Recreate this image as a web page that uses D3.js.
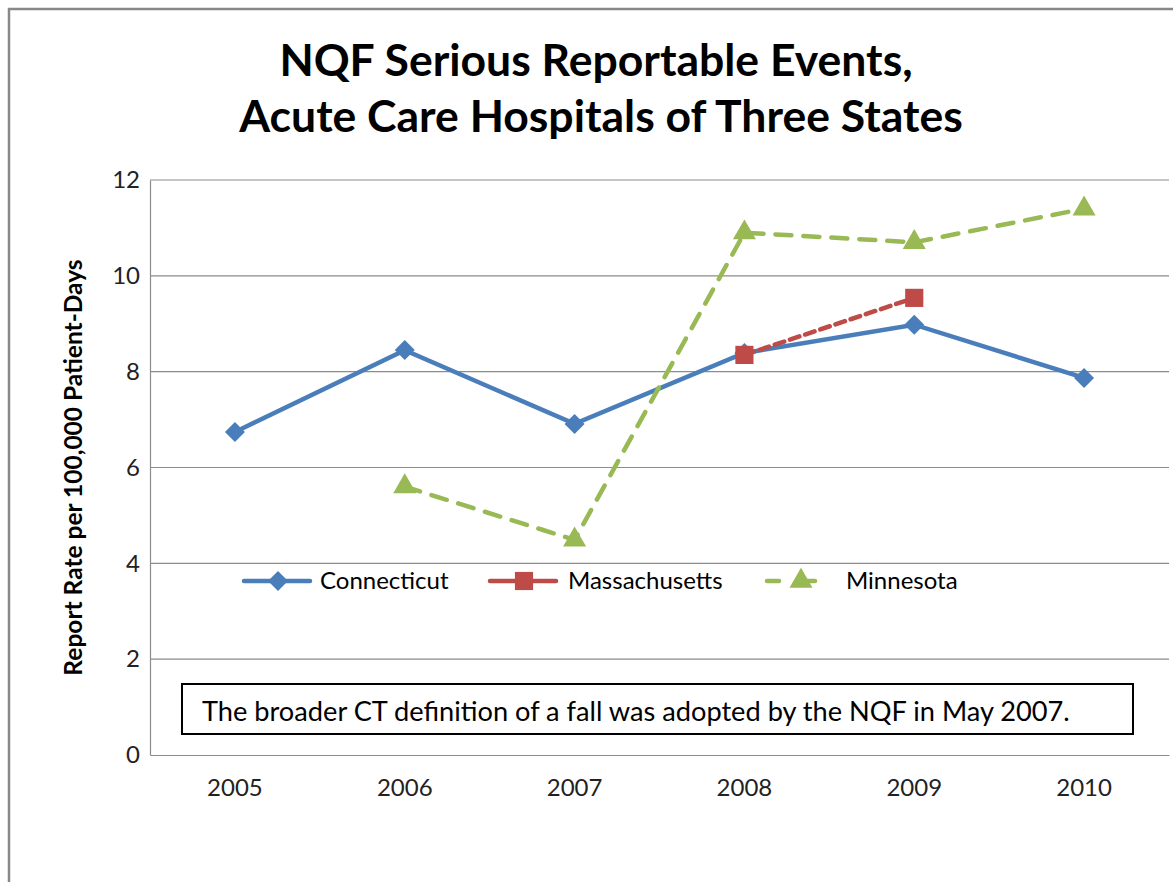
<!DOCTYPE html>
<html>
<head>
<meta charset="utf-8">
<script src="https://cdn.jsdelivr.net/npm/d3@7"></script>
<style>
  body { margin: 0; background: #fff; }
  svg { display: block; }
</style>
</head>
<body>
<div id="chart"></div>
<script>
const years = ["2005", "2006", "2007", "2008", "2009", "2010"];
const yTicks = [0, 2, 4, 6, 8, 10, 12];
const connecticut = [6.74, 8.45, 6.91, 8.39, 8.98, 7.87];
const massachusetts = [null, null, null, 8.35, 9.54, null];
const minnesota = [null, 5.6, 4.49, 10.9, 10.7, 11.4];

const W = 1173, H = 882;
const FONT = "Lato, 'Open Sans', Arial, sans-serif";

const svg = d3.select("#chart").append("svg")
    .attr("width", W)
    .attr("height", H);

// outer chart frame (continues past the right and bottom edges)
svg.append("rect")
    .attr("x", 9).attr("y", 9)
    .attr("width", W + 20).attr("height", H + 20)
    .attr("fill", "#fff")
    .attr("stroke", "#888").attr("stroke-width", 2.5);

// title
const title = svg.append("text")
    .attr("text-anchor", "middle")
    .attr("font-family", FONT)
    .attr("font-weight", "bold")
    .attr("font-size", "44.5px")
    .attr("fill", "#000");
title.append("tspan").attr("x", 596).attr("y", 76).text("NQF Serious Reportable Events,");
title.append("tspan").attr("x", 601).attr("y", 132).text("Acute Care Hospitals of Three States");

const plot = { left: 150, right: 1169, top: 180, bottom: 755 };

const x = d3.scaleBand().domain(years).range([plot.left, plot.right]);
const y = d3.scaleLinear().domain([0, 12]).range([plot.bottom, plot.top]);

// gridlines
svg.append("g")
    .selectAll("line")
    .data(yTicks.filter(d => d > 0))
    .join("line")
    .attr("x1", plot.left).attr("x2", plot.right)
    .attr("y1", d => y(d)).attr("y2", d => y(d))
    .attr("stroke", "#8c8c8c").attr("stroke-width", 1.2);

// y axis
const yAxis = svg.append("g")
    .attr("transform", `translate(${plot.left},0)`)
    .call(d3.axisLeft(y).tickValues(yTicks).tickSize(0).tickPadding(10));
yAxis.select(".domain").attr("stroke", "#8c8c8c").attr("stroke-width", 1.2);
yAxis.selectAll("text")
    .attr("font-family", FONT)
    .attr("font-size", "24px")
    .attr("fill", "#222");

// x axis
const xAxis = svg.append("g")
    .attr("transform", `translate(0,${plot.bottom})`)
    .call(d3.axisBottom(x).tickSize(0).tickPadding(24));
xAxis.select(".domain").attr("stroke", "#8c8c8c").attr("stroke-width", 1.2);
xAxis.selectAll("text")
    .attr("font-family", FONT)
    .attr("font-size", "24px")
    .attr("fill", "#222");

// y axis title
svg.append("text")
    .attr("transform", `translate(82,${(plot.top + plot.bottom) / 2}) rotate(-90)`)
    .attr("text-anchor", "middle")
    .attr("font-family", FONT)
    .attr("font-weight", "bold")
    .attr("font-size", "24.5px")
    .text("Report Rate per 100,000 Patient-Days");

// annotation box
svg.append("rect")
    .attr("x", 182).attr("y", 684)
    .attr("width", 951).attr("height", 50)
    .attr("fill", "#fff")
    .attr("stroke", "#000").attr("stroke-width", 2);
svg.append("text")
    .attr("x", 202).attr("y", 721)
    .attr("font-family", FONT)
    .attr("font-size", "27.2px")
    .attr("fill", "#000")
    .text("The broader CT definition of a fall was adopted by the NQF in May 2007.");

// diamond = square turned 45 degrees, like the Excel marker
const series = [
    { name: "Connecticut", values: connecticut, color: "#4A7EBB", dash: null, marker: d3.symbolSquare, size: 200, rot: 45 },
    { name: "Massachusetts", values: massachusetts, color: "#BE4B48", dash: "10,6", marker: d3.symbolSquare, size: 330, rot: 0 },
    { name: "Minnesota", values: minnesota, color: "#98B954", dash: "16,12", marker: d3.symbolTriangle, size: 230, rot: 0 }
];

const line = d3.line()
    .defined(d => d != null)
    .x((d, i) => x(years[i]) + x.bandwidth() / 2)
    .y(d => y(d));

series.forEach(s => {
    svg.append("path")
        .datum(s.values)
        .attr("fill", "none")
        .attr("stroke", s.color)
        .attr("stroke-width", 4.5)
        .attr("stroke-dasharray", s.dash)
        .attr("stroke-linecap", s.dash ? "round" : "butt")
        .attr("d", line);
});

series.forEach(s => {
    svg.append("g")
        .selectAll("path")
        .data(s.values.map((v, i) => ({ v, i })).filter(d => d.v != null))
        .join("path")
        .attr("transform", d => `translate(${x(years[d.i]) + x.bandwidth() / 2},${y(d.v)}) rotate(${s.rot})`)
        .attr("d", d3.symbol().type(s.marker).size(s.size))
        .attr("fill", s.color);
});

// legend
const legendPos = [244, 490, 767];
const legendText = [320, 568, 846];
const ly = 581;
series.forEach((s, i) => {
    const g = svg.append("g");
    g.append("line")
        .attr("x1", legendPos[i]).attr("x2", legendPos[i] + 66)
        .attr("y1", ly).attr("y2", ly)
        .attr("stroke", s.color).attr("stroke-width", 4.5)
        .attr("stroke-linecap", "round")
        .attr("stroke-dasharray", i === 2 ? "12,24" : null);
    g.append("path")
        .attr("transform", `translate(${legendPos[i] + 34},${ly}) rotate(${s.rot})`)
        .attr("d", d3.symbol().type(s.marker).size(s.size))
        .attr("fill", s.color);
    g.append("text")
        .attr("x", legendText[i]).attr("y", ly + 8)
        .attr("font-family", FONT)
        .attr("font-size", "24px")
        .attr("fill", "#000")
        .text(s.name);
});
</script>
</body>
</html>
